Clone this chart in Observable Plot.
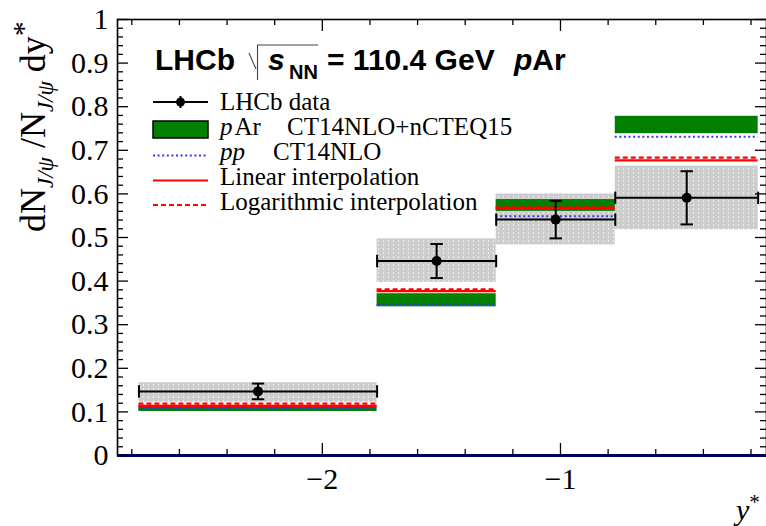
<!DOCTYPE html>
<html>
<head>
<meta charset="utf-8">
<script src="https://cdn.jsdelivr.net/npm/d3@7"></script>
<script src="https://cdn.jsdelivr.net/npm/@observablehq/plot@0.6"></script>
<style>
  html, body { margin: 0; padding: 0; background: white; }
  #chart { width: 766px; height: 526px; overflow: hidden; }
</style>
</head>
<body>
<div id="chart"></div>
<script>
// ---- data ----
const binLo     = [-2.77, -1.77, -1.27, -0.77];
const binHi     = [-1.77, -1.27, -0.77, -0.17];
const binCenter = [-2.27, -1.52, -1.02, -0.47];
const dataVal   = [0.147, 0.446, 0.541, 0.591];
const statErr   = [0.018, 0.039, 0.043, 0.061];
const sysLo     = [0.122, 0.397, 0.483, 0.518];
const sysHi     = [0.167, 0.497, 0.600, 0.664];
const pArLo     = [0.101, 0.341, 0.560, 0.738];
const pArHi     = [0.114, 0.371, 0.587, 0.778];
const ppVal     = [0.108, 0.345, 0.549, 0.731];
const linVal    = [0.114, 0.377, 0.567, 0.677];
const logVal    = [0.119, 0.381, 0.569, 0.683];

const xDomain = [-2.86, -0.135];
const yDomain = [0, 1];
const yMajor = [0, 0.1, 0.2, 0.3, 0.4, 0.5, 0.6, 0.7, 0.8, 0.9, 1];
const yMinor = d3.range(0, 50).map(i => i * 0.02).filter((v, i) => i % 5 !== 0);
const xMajor = [-2, -1];
const xMinor = [-2.8, -2.6, -2.4, -2.2, -1.8, -1.6, -1.4, -1.2, -0.8, -0.6, -0.4, -0.2];

const bins = binLo.map((lo, i) => ({
  lo, hi: binHi[i], c: binCenter[i], v: dataVal[i], e: statErr[i],
  sLo: sysLo[i], sHi: sysHi[i], gLo: pArLo[i], gHi: pArHi[i],
  pp: ppVal[i], lin: linVal[i], log: logVal[i]
}));

const W = 766, H = 526, mL = 117, mR = 0, mT = 19, mB = 71;
const pw = W - mL - mR, ph = H - mT - mB;

const vbar = { draw(ctx, size) { const h = Math.sqrt(size); ctx.moveTo(0, -h); ctx.lineTo(0, h); } };
const hbar = { draw(ctx, size) { const h = Math.sqrt(size); ctx.moveTo(-h, 0); ctx.lineTo(h, 0); } };

const GRAY = "#d5d5d5";

const plot = Plot.plot({
  width: W, height: H,
  marginLeft: mL, marginRight: mR, marginTop: mT, marginBottom: mB,
  x: { domain: xDomain, axis: null },
  y: { domain: yDomain, axis: null },
  style: { background: "white", fontFamily: "'Liberation Serif', serif", fontSize: "30px", color: "black" },
  marks: [
    Plot.rect(bins, { x1: "lo", x2: "hi", y1: "sLo", y2: "sHi", fill: GRAY }),
    Plot.rect(bins, { x1: "lo", x2: "hi", y1: "gLo", y2: "gHi", fill: "#007f00" }),
    Plot.ruleY(bins, { x1: "lo", x2: "hi", y: "pp", stroke: "#3636ff", strokeWidth: 2, strokeDasharray: "2,2.6" }),
    Plot.ruleY(bins, { x1: "lo", x2: "hi", y: "lin", stroke: "#ff0000", strokeWidth: 2.2 }),
    Plot.ruleY(bins, { x1: "lo", x2: "hi", y: "log", stroke: "#ff0000", strokeWidth: 2.2, strokeDasharray: "5,3" }),
    Plot.ruleY([0], { stroke: "#00008c", strokeWidth: 3 }),
    Plot.ruleY(bins, { x1: "lo", x2: "hi", y: "v", stroke: "black", strokeWidth: 2 }),
    Plot.dot(bins, { x: "lo", y: "v", symbol: vbar, r: 3.5, stroke: "black", strokeWidth: 2, fill: "none" }),
    Plot.dot(bins, { x: "hi", y: "v", symbol: vbar, r: 3.5, stroke: "black", strokeWidth: 2, fill: "none" }),
    Plot.ruleX(bins, { x: "c", y1: d => d.v - d.e, y2: d => d.v + d.e, stroke: "black", strokeWidth: 2 }),
    Plot.dot(bins, { x: "c", y: d => d.v - d.e, symbol: hbar, r: 3.5, stroke: "black", strokeWidth: 2, fill: "none" }),
    Plot.dot(bins, { x: "c", y: d => d.v + d.e, symbol: hbar, r: 3.5, stroke: "black", strokeWidth: 2, fill: "none" }),
    Plot.dot(bins, { x: "c", y: "v", r: 5, fill: "black" }),
    Plot.ruleY(yMajor, { stroke: "black", strokeWidth: 1.3, insetRight: pw - 11 }),
    Plot.ruleY(yMinor, { stroke: "black", strokeWidth: 1.3, insetRight: pw - 6 }),
    Plot.ruleY(yMajor, { stroke: "black", strokeWidth: 1.3, insetLeft: pw - 11 }),
    Plot.ruleY(yMinor, { stroke: "black", strokeWidth: 1.3, insetLeft: pw - 6 }),
    Plot.ruleX(xMajor, { stroke: "black", strokeWidth: 1.3, insetTop: ph - 12 }),
    Plot.ruleX(xMinor, { stroke: "black", strokeWidth: 1.3, insetTop: ph - 6 }),
    Plot.ruleX(xMajor, { stroke: "black", strokeWidth: 1.3, insetBottom: ph - 12 }),
    Plot.ruleX(xMinor, { stroke: "black", strokeWidth: 1.3, insetBottom: ph - 6 }),
    Plot.frame({ stroke: "black", strokeWidth: 1.6 }),
    Plot.axisY(yMajor, { tickSize: 0, tickPadding: 9, tickFormat: d => String(d), fontSize: 30 }),
    Plot.axisX(xMajor, { tickSize: 0, tickPadding: 12, tickFormat: d => "\u2212" + Math.abs(d), fontSize: 30 })
  ]
});

document.getElementById("chart").appendChild(plot);

const svg = d3.select(plot);

// gray band texture
const defs = svg.insert("defs", ":first-child");
const pat = defs.append("pattern").attr("id", "graypat").attr("patternUnits", "userSpaceOnUse")
  .attr("width", 5).attr("height", 4);
pat.append("rect").attr("width", 5).attr("height", 4).attr("fill", "#cdcdcd");
pat.append("rect").attr("x", 3).attr("y", 0).attr("width", 1).attr("height", 2).attr("fill", "#ececec");
svg.selectAll(`g[fill="${GRAY}"]`).attr("fill", "url(#graypat)");

// title
const title = svg.append("g").attr("font-family", "'Liberation Sans', Arial, sans-serif").attr("font-weight", "bold")
  .attr("fill", "black").attr("text-anchor", "start");
title.append("text").attr("x", 155).attr("y", 70).attr("font-size", 30).text("LHCb");
svg.append("path").attr("d", "M249,53 L256,69 M257.5,80 L257.5,45 L318,45").attr("stroke", "#444").attr("stroke-width", 1.1).attr("fill", "none");
title.append("text").attr("x", 268).attr("y", 70).attr("font-size", 30).attr("font-style", "italic").text("s");
title.append("text").attr("x", 289).attr("y", 79).attr("font-size", 20).text("NN");
title.append("text").attr("x", 327).attr("y", 70).attr("font-size", 30).text("= 110.4 GeV");
const t2 = title.append("text").attr("x", 514).attr("y", 70).attr("font-size", 30);
t2.append("tspan").attr("font-style", "italic").text("p");
t2.append("tspan").text("Ar");

// legend
const lg = svg.append("g").attr("font-family", "'Liberation Serif', serif").attr("font-size", 25)
  .attr("fill", "black").attr("text-anchor", "start");
const sx1 = 153, sx2 = 208, tx = 220;
lg.append("line").attr("x1", sx1).attr("x2", sx2).attr("y1", 102).attr("y2", 102).attr("stroke", "black").attr("stroke-width", 2);
lg.append("line").attr("x1", 180.5).attr("x2", 180.5).attr("y1", 96).attr("y2", 108).attr("stroke", "black").attr("stroke-width", 2);
lg.append("circle").attr("cx", 180.5).attr("cy", 102).attr("r", 4.5).attr("fill", "black");
lg.append("text").attr("x", tx).attr("y", 110).text("LHCb data");
lg.append("rect").attr("x", sx1).attr("y", 121).attr("width", sx2 - sx1).attr("height", 17).attr("fill", "#007f00").attr("stroke", "black").attr("stroke-width", 1.5);
const r2 = lg.append("text").attr("x", tx).attr("y", 135);
r2.append("tspan").attr("font-style", "italic").text("p");
r2.append("tspan").attr("dx", 2).text("Ar");
lg.append("text").attr("x", 287).attr("y", 135).text("CT14NLO+nCTEQ15");
lg.append("line").attr("x1", sx1).attr("x2", sx2).attr("y1", 155.5).attr("y2", 155.5).attr("stroke", "#3636ff").attr("stroke-width", 2).attr("stroke-dasharray", "2,2.6");
lg.append("text").attr("x", tx).attr("y", 160).attr("font-style", "italic").text("pp");
lg.append("text").attr("x", 273).attr("y", 160).text("CT14NLO");
lg.append("line").attr("x1", sx1).attr("x2", sx2).attr("y1", 180.5).attr("y2", 180.5).attr("stroke", "#ff0000").attr("stroke-width", 2.2);
lg.append("text").attr("x", tx).attr("y", 185).text("Linear interpolation");
lg.append("line").attr("x1", sx1).attr("x2", sx2).attr("y1", 205).attr("y2", 205).attr("stroke", "#ff0000").attr("stroke-width", 2.2).attr("stroke-dasharray", "5,3");
lg.append("text").attr("x", tx).attr("y", 210).text("Logarithmic interpolation");

// y-axis title
const yl = svg.append("text").attr("transform", "translate(45,232) rotate(-90)").attr("text-anchor", "start")
  .attr("font-family", "'Liberation Serif', serif").attr("font-size", 36).attr("fill", "black");
yl.append("tspan").text("dN");
yl.append("tspan").attr("dy", 8).attr("font-size", 23).attr("font-style", "italic").text("J/\u03C8");
yl.append("tspan").attr("dy", -8).text(" /N");
yl.append("tspan").attr("dy", 8).attr("font-size", 23).attr("font-style", "italic").text("J/\u03C8");
yl.append("tspan").attr("dy", -8).text(" dy");
yl.append("tspan").attr("dy", -12).attr("font-size", 30).text("*");

// x-axis title
const xl = svg.append("text").attr("x", 736).attr("y", 520).attr("text-anchor", "start")
  .attr("font-family", "'Liberation Serif', serif").attr("font-size", 30).attr("font-style", "italic").attr("fill", "black");
xl.append("tspan").text("y");
xl.append("tspan").attr("dy", -11).attr("font-size", 21).attr("font-style", "normal").text("*");
</script>
</body>
</html>
